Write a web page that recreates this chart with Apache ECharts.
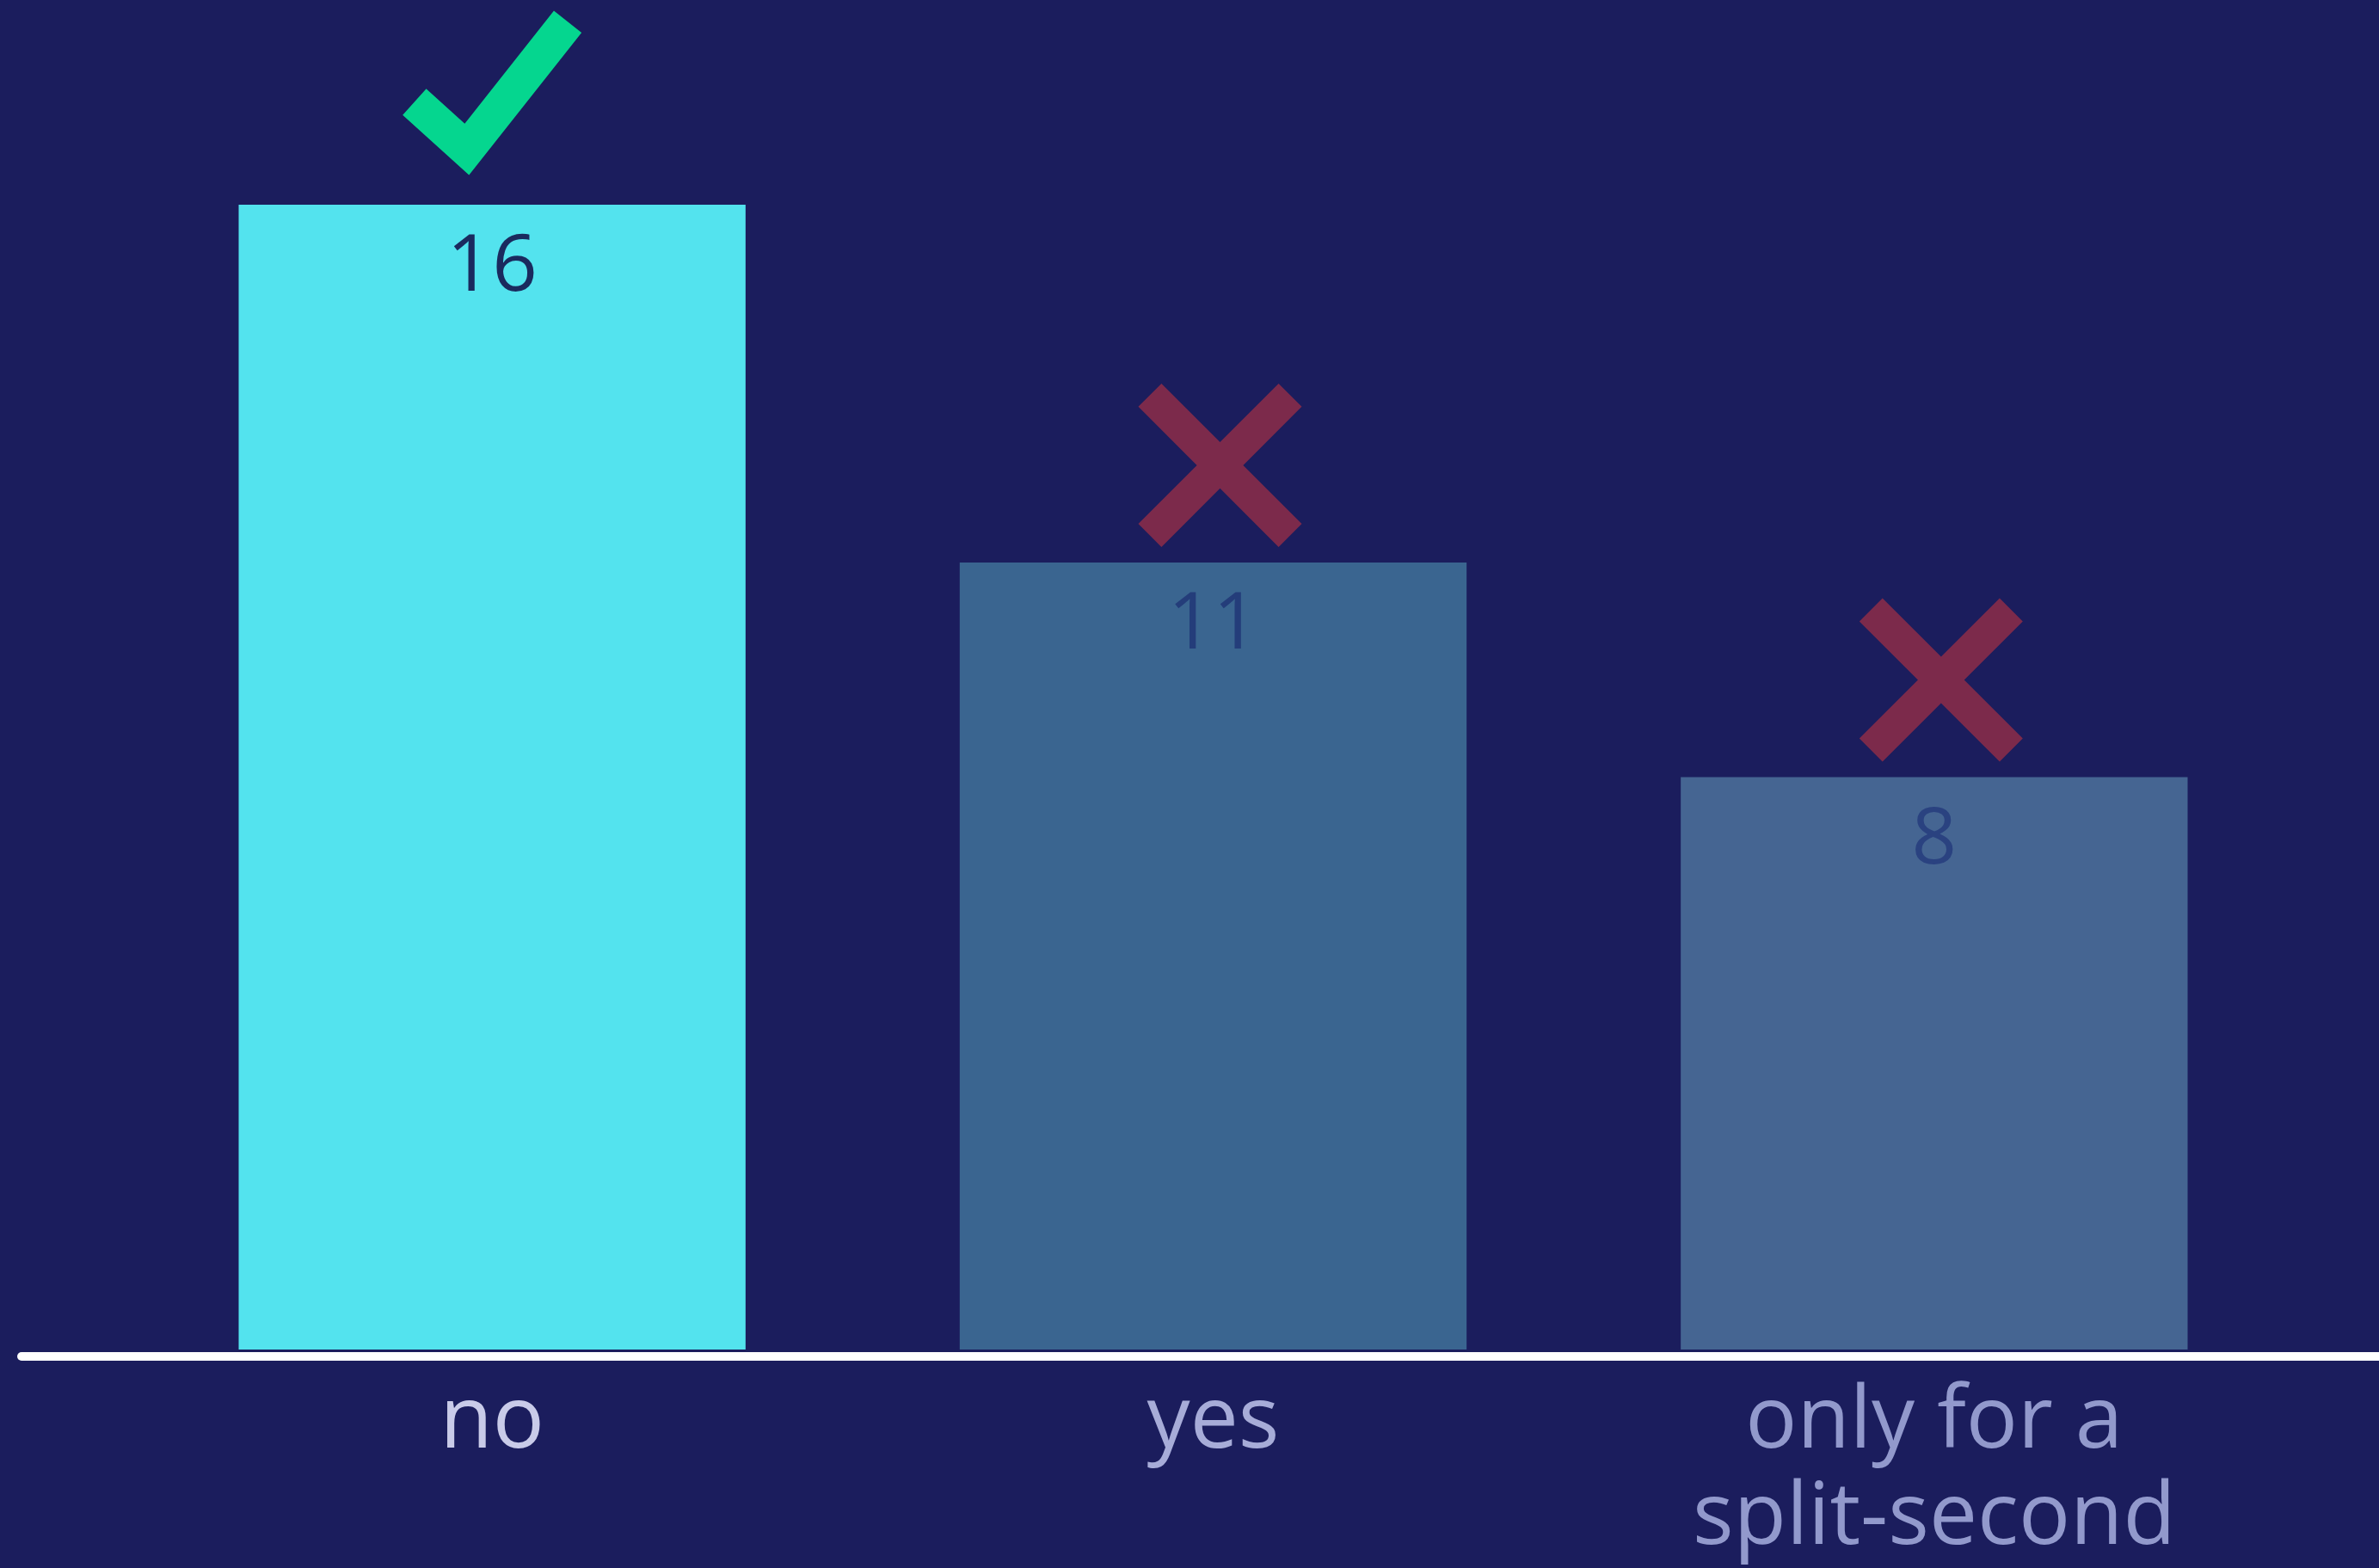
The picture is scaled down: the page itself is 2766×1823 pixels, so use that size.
<!DOCTYPE html>
<html>
<head>
<meta charset="utf-8">
<title>Answers</title>
<script src="https://cdn.jsdelivr.net/npm/echarts@6/dist/echarts.min.js"></script>
<style>
  html, body { margin: 0; padding: 0; background: #1b1d5d; }
  #chart { width: 2766px; height: 1823px; }
</style>
</head>
<body>
<div id="chart"></div>
<script>
// Answer categories and how many people picked each one
const categories = ['no', 'yes', 'only for a\nsplit-second'];
const counts = [16, 11, 8];
// Whether each answer is the right one (tick) or a wrong one (cross)
const verdicts = ['correct', 'wrong', 'wrong'];

// Styling
const FONT = 'Open Sans';
const barColors = ['#53e3ee', '#3a6590', '#456592'];
const valueLabelColors = ['#1a2a5e', '#243d7a', '#2a4280'];
const categoryLabelColors = ['#c9cbe9', '#a7acd8', '#9299cc'];
const TICK_COLOR = '#05d68f';
const CROSS_COLOR = '#7c2a4b';

// Thick check mark and cross drawn as filled outlines
const TICK_PATH = 'path://M27.4 90.8L72.2 131.1L175.9 0L208.1 25.4L77.2 190.9L0 121.2Z';
const CROSS_PATH = 'path://M26.9 0L95 68.1L163.1 0L190 26.9L121.9 95L190 163.1L163.1 190L95 121.9L26.9 190L0 163.1L68.1 95L0 26.9Z';

const chart = echarts.init(document.getElementById('chart'), null, { renderer: 'canvas' });

const markers = counts.map((v, i) => {
  const ok = verdicts[i] === 'correct';
  return {
    coord: [i, v],
    symbol: ok ? TICK_PATH : CROSS_PATH,
    symbolSize: ok ? [208, 191] : [190, 190],
    symbolOffset: ok ? [0, -130] : [8, -113],
    itemStyle: { color: ok ? TICK_COLOR : CROSS_COLOR }
  };
});

const option = {
  backgroundColor: '#1b1d5d',
  animation: false,
  grid: [
    { left: 153, right: 98, top: 238, bottom: 252 },
    { left: 25, right: 0, top: 238, bottom: 252 }
  ],
  xAxis: [
    {
      type: 'category',
      gridIndex: 0,
      data: categories.map((c, i) => ({ value: c, textStyle: { color: categoryLabelColors[i] } })),
      offset: 6,
      axisLine: { show: false, onZero: false },
      axisTick: { show: false },
      axisLabel: {
        interval: 0,
        fontFamily: FONT,
        fontSize: 100,
        lineHeight: 112,
        margin: 24
      }
    },
    {
      // full-width baseline
      type: 'value',
      gridIndex: 1,
      min: 0,
      max: 1,
      offset: 6,
      z: 5,
      axisLine: { show: true, onZero: false, lineStyle: { color: '#ffffff', width: 10 } },
      axisTick: { show: false },
      axisLabel: { show: false },
      splitLine: { show: false }
    }
  ],
  yAxis: [
    { type: 'value', gridIndex: 0, min: 0, max: Math.max(...counts), show: false },
    { type: 'value', gridIndex: 1, min: 0, max: 1, show: false }
  ],
  series: [
    {
      type: 'bar',
      xAxisIndex: 0,
      yAxisIndex: 0,
      barCategoryGap: '29.7%',
      data: counts.map((v, i) => ({
        value: v,
        itemStyle: { color: barColors[i] },
        label: { color: valueLabelColors[i] }
      })),
      label: {
        show: true,
        position: 'insideTop',
        distance: 28,
        fontFamily: FONT,
        fontSize: 92
      },
      markPoint: {
        silent: true,
        label: { show: false },
        data: markers
      }
    }
  ]
};

chart.setOption(option);
</script>
</body>
</html>
